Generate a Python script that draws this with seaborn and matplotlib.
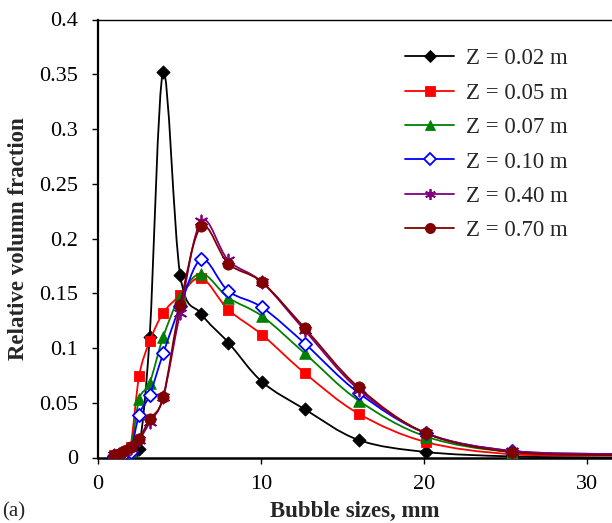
import numpy as np
import pandas as pd
import matplotlib
matplotlib.use("Agg")
import matplotlib.pyplot as plt
from matplotlib.path import Path
from matplotlib.patches import PathPatch
from matplotlib.lines import Line2D
import seaborn as sns

# ---- data ----
sizes = [1.0, 1.26, 1.59, 2.0, 2.52, 3.17, 4.0, 5.04, 6.35, 8.0, 10.08, 12.7, 16.0, 20.16, 25.4, 32.0]
z002 = [0.001, 0.0, 0.0, 0.001, 0.008, 0.110, 0.352, 0.167, 0.131, 0.105, 0.069, 0.044, 0.016, 0.005, 0.001, 0.0]
z005 = [0.002, 0.003, 0.004, 0.010, 0.074, 0.106, 0.132, 0.148, 0.164, 0.135, 0.112, 0.077, 0.040, 0.014, 0.003, 0.002]
z007 = [0.001, 0.002, 0.003, 0.006, 0.053, 0.068, 0.110, 0.147, 0.168, 0.146, 0.129, 0.095, 0.052, 0.019, 0.005, 0.003]
z010 = [0.001, 0.002, 0.003, 0.005, 0.039, 0.057, 0.095, 0.138, 0.181, 0.152, 0.137, 0.104, 0.059, 0.022, 0.006, 0.003]
z040 = [0.002, 0.003, 0.005, 0.009, 0.016, 0.032, 0.055, 0.132, 0.216, 0.180, 0.160, 0.116, 0.062, 0.022, 0.006, 0.003]
z070 = [0.002, 0.003, 0.006, 0.010, 0.017, 0.035, 0.055, 0.139, 0.211, 0.177, 0.160, 0.118, 0.064, 0.022, 0.005, 0.002]
labels = ["Z = 0.02 m", "Z = 0.05 m", "Z = 0.07 m", "Z = 0.10 m", "Z = 0.40 m", "Z = 0.70 m"]
series = [z002, z005, z007, z010, z040, z070]
xticks = [0, 10, 20, 30]
yticks = [0, 0.05, 0.1, 0.15, 0.2, 0.25, 0.3, 0.35, 0.4]
yticklabels = ["0", "0.05", "0.1", "0.15", "0.2", "0.25", "0.3", "0.35", "0.4"]

# ---- styles ----
colors = ["#000000", "#FF0000", "#008000", "#0000FF", "#800080", "#800000"]
markers = ["D", "s", "^", "D", (6, 2, 0), "o"]
msizes = [45, 60, 70, 45, 75, 65]
faces = ["#000000", "#FF0000", "#008000", "#FFFFFF", "#800080", "#800000"]

sns.set_theme(style="white")
plt.rcParams["font.family"] = ["Liberation Serif", "DejaVu Serif"]

fig = plt.figure(figsize=(6.12, 5.23), dpi=100)
W, H = 612, 523
x0, xr, ytop, ybot = 98, 612, 19.5, 457.5
ax = fig.add_axes([x0 / W, 1 - ybot / H, (xr - x0) / W, (ybot - ytop) / H])

def smooth_path(xs, ys):
    pts = np.column_stack([xs, ys]).astype(float)
    n = len(pts)
    verts = [pts[0]]
    codes = [Path.MOVETO]
    for i in range(n - 1):
        p0 = pts[i - 1] if i > 0 else pts[i]
        p1 = pts[i]
        p2 = pts[i + 1]
        p3 = pts[i + 2] if i + 2 < n else pts[i + 1]
        c1 = p1 + (p2 - p0) / 6.0
        c2 = p2 - (p3 - p1) / 6.0
        verts += [c1, c2, p2]
        codes += [Path.CURVE4] * 3
    return Path(verts, codes)

df = pd.DataFrame({"size": sizes})
for i, (vals, lab) in enumerate(zip(series, labels)):
    df[lab] = vals
    patch = PathPatch(smooth_path(sizes, vals), facecolor="none", edgecolor=colors[i],
                      lw=1.3, transform=ax.transData, zorder=2 + i * 2, clip_on=True)
    ax.add_patch(patch)
    lw = 1.3 if i in (3, 4) else 0.6
    sns.scatterplot(data=df, x="size", y=lab, ax=ax, marker=markers[i], s=msizes[i],
                    color=faces[i], edgecolor=colors[i], linewidth=lw,
                    zorder=3 + i * 2, legend=False, clip_on=True)

ax.set_xlim(0, (xr - x0) / 16.29)
ax.set_ylim(0, 0.4)
ax.set_xticks(xticks)
ax.set_xticklabels([str(t) for t in xticks])
ax.set_yticks(yticks)
ax.set_yticklabels(yticklabels)
ax.tick_params(axis="both", direction="out", length=4.5, width=1.0, labelsize=16,
               colors="black", bottom=True, left=True)
ax.tick_params(axis="x", pad=8)
ax.tick_params(axis="y", pad=10)
for s in ["left", "bottom", "top"]:
    ax.spines[s].set_visible(True)
    ax.spines[s].set_color("black")
ax.spines["left"].set_linewidth(1.6)
ax.spines["bottom"].set_linewidth(1.8)
ax.spines["top"].set_linewidth(1.0)
ax.spines["right"].set_visible(False)

ax.set_xlabel("Bubble sizes, mm", fontsize=16.5, fontweight="bold", labelpad=5)
ax.set_ylabel("Relative volumn fraction", fontsize=16.5, fontweight="bold", labelpad=7)

handles = []
for i in range(6):
    handles.append(Line2D([0], [0], color=colors[i], lw=1.3, marker=markers[i],
                          markersize=np.sqrt(msizes[i]) * 0.9, markerfacecolor=faces[i],
                          markeredgecolor=colors[i],
                          markeredgewidth=1.3 if i in (3, 4) else 0.6))
leg = ax.legend(handles, labels, loc="upper left", bbox_to_anchor=(394 / W, 1 - 37 / H),
                bbox_transform=fig.transFigure, frameon=False, fontsize=16.5,
                handlelength=2.1, handletextpad=0.55, labelspacing=0.58, borderpad=0)

fig.text(2 / W, 1 - 512 / H, "(a)", fontsize=15, va="center", ha="left")

fig.savefig("out.png", dpi=100)
